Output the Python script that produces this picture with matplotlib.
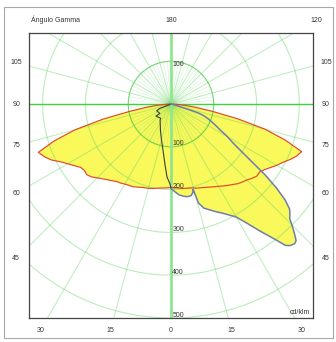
import matplotlib.pyplot as plt
import numpy as np
from matplotlib.patches import Rectangle

plt.rcParams["font.family"] = ["Liberation Sans", "DejaVu Sans"]

# C0 / C180 plane, cd/klm per gamma angle
gamma_c0 = [0, 2.5, 5, 7.5, 10, 12.5, 15, 17.5, 20, 22.5, 25, 27.5, 30, 32.5,
            35, 37.5, 40, 42.5, 45, 47.5, 50, 52.5, 55, 57.5, 60, 62.5, 65,
            67.5, 70, 72.5, 75, 77.5, 80, 82.5, 85, 87.5, 90]
cd_c0 = [195, 196, 197, 199, 200, 201, 203, 206, 208, 211, 214, 218, 222, 227,
         232, 237, 243, 247, 251, 257, 262, 261, 267, 276, 286, 295, 307,
         318, 325, 280, 228, 160, 98, 58, 30, 12, 2]
cd_c180 = [195, 196, 197, 198, 200, 202, 204, 205, 207, 210, 213, 214, 216, 219,
           221, 226, 231, 237, 244, 252, 257, 255, 258, 268, 279, 292, 309,
           321, 330, 286, 232, 162, 97, 58, 31, 12, 2]

# C90 / C270 plane
gamma_c90 = [0, 2.5, 5, 7.5, 10, 12.5, 14, 14.5, 15, 15.5, 17.5, 20, 22.5, 25,
             27.5, 30, 32.5, 35, 37.5, 39, 40, 41.5, 42.5, 43.5, 45, 46, 47.5,
             48.5, 50, 51.5, 53, 54.5, 56, 58, 60, 62.5, 65, 68, 70, 71, 72,
             73, 75, 80, 85, 90]
cd_c90 = [197, 205, 213, 217, 220, 219, 212, 206, 220, 240, 255, 263, 272, 281,
          292, 305, 330, 362, 398, 425, 432, 436, 433, 420, 400, 386, 377,
          370, 348, 315, 276, 232, 200, 170, 152, 128, 112, 95, 84, 76, 66,
          35, 12, 4, 1, 0]
gamma_c270 = [0, 0.7, 3.1, 5.6, 9.9, 14.8, 22, 34.5, 35.8, 51.3, 49.8, 64.9, 68.6, 90]
cd_c270 = [197, 187, 171, 143, 109, 87, 66, 45, 41, 45, 34, 37, 28, 0]

rings = [100, 200, 300, 400, 500]
side_labels = [105, 90, 75, 60, 45]
bottom_labels = [30, 15, 0]

# axis box in cd/klm units
x_half, y_top, y_bottom = 332, 166, -500
# distance of the gamma labels from the centre
lab_side, lab_top, lab_bottom = 362, 196, 530


def to_xy(gamma, cd, side):
    g = np.radians(gamma)
    cd = np.asarray(cd, dtype=float)
    return side * cd * np.sin(g), -cd * np.cos(g)


fig = plt.figure(figsize=(3.36, 3.42), dpi=100)
fig.patches.append(Rectangle((4 / 336, 4 / 342), 329 / 336, 331 / 342,
                             transform=fig.transFigure, fill=False,
                             edgecolor="#a8a8a8", lw=0.8))
ax = fig.add_axes([29 / 336, 24 / 342, 284 / 336, 285 / 342])
ax.set_xlim(-x_half, x_half)
ax.set_ylim(y_bottom, y_top)
ax.set_xticks([])
ax.set_yticks([])
for sp in ax.spines.values():
    sp.set_color("#454545")
    sp.set_linewidth(0.9)

# luminous intensity curves
xl, yl = to_xy(gamma_c0[::-1], cd_c180[::-1], -1)
xr, yr = to_xy(gamma_c0, cd_c0, 1)
red_x = np.concatenate([xl, xr])
red_y = np.concatenate([yl, yr])
gl_x, gl_y = to_xy(gamma_c270[::-1], cd_c270[::-1], -1)
gr_x, gr_y = to_xy(gamma_c90, cd_c90, 1)

yellow = "#f9f95c"
ax.fill(red_x, red_y, color=yellow, lw=0, zorder=1)
ax.fill(np.concatenate([gl_x, gr_x]), np.concatenate([gl_y, gr_y]),
        color=yellow, lw=0, zorder=1)

# polar grid
grid = "#5fd35f"
t = np.linspace(0, 2 * np.pi, 400)
for r in [100, 200, 300, 400, 500, 600, 700, 800]:
    col, a = ("#3cc03c", 0.7) if r == 100 else (grid, 0.42)
    ax.plot(r * np.cos(t), r * np.sin(t), color=col, alpha=a, lw=0.8, zorder=2)
for ang in range(0, 360, 15):
    a = np.radians(ang)
    ax.plot([0, 1000 * np.cos(a)], [0, 1000 * np.sin(a)],
            color=grid, alpha=0.4, lw=0.75, zorder=2)
for ang in range(0, 360, 5):
    if ang % 15:
        a = np.radians(ang)
        ax.plot([0, 100 * np.cos(a)], [0, 100 * np.sin(a)],
                color=grid, alpha=0.25, lw=0.5, zorder=2)
ax.axhline(0, color="#3ed23e", lw=1.0, zorder=2.5)
ax.axvline(0, color="#8fe68f", lw=2.0, zorder=2.5)

ax.plot(red_x, red_y, color="#e2482c", lw=0.85, zorder=3)
ax.plot(gl_x, gl_y, color="#3c3c3c", lw=0.8, zorder=3)
ax.plot(gr_x, gr_y, color="#6e7ea6", lw=1.1, zorder=3)

txt = dict(fontsize=5, color="#333333", zorder=5)

# ring values
for r in rings:
    ax.text(3, -r + 7, str(r), ha="left", va="center", **txt)
ax.text(3, 100 - 7, "100", ha="left", va="center", **txt)


def label_pos(gamma, side):
    g = np.radians(gamma)
    ux, uy = side * np.sin(g), -np.cos(g)
    d = [lab_side / abs(ux) if abs(ux) > 1e-9 else np.inf]
    if uy > 1e-9:
        d.append(lab_top / uy)
    elif uy < -1e-9:
        d.append(lab_bottom / -uy)
    k = min(d)
    return k * ux, k * uy


for g in side_labels:
    for side in (-1, 1):
        x, y = label_pos(g, side)
        ax.text(x, y, str(g), ha="center", va="center", clip_on=False, **txt)
for g in bottom_labels:
    for side in ((-1, 1) if g else (1,)):
        x, y = label_pos(g, side)
        ax.text(x, y, str(g), ha="center", va="center", clip_on=False, **txt)
x, y = label_pos(180, 1)
ax.text(x, y, "180", ha="center", va="center", clip_on=False, **txt)
x, y = label_pos(120, 1)
ax.text(x, y, "120", ha="center", va="center", clip_on=False, **txt)

ax.text(-327, y, "Ángulo Gamma", ha="left", va="center", clip_on=False, **txt)
ax.text(325, -488, "cd/klm", ha="right", va="center", **txt)

plt.savefig("out.png", dpi=100)
